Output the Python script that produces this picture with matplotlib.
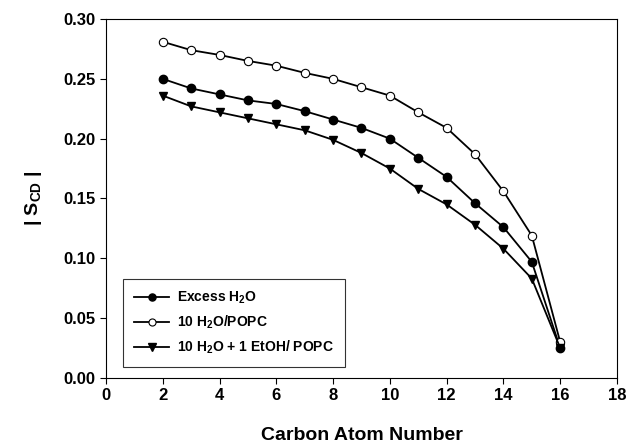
import numpy as np
import matplotlib.pyplot as plt

plt.rcParams['font.family'] = ['Liberation Sans', 'DejaVu Sans']
plt.rcParams['font.weight'] = 'bold'
plt.rcParams['mathtext.fontset'] = 'custom'
plt.rcParams['mathtext.rm'] = 'Liberation Sans:bold'
plt.rcParams['mathtext.it'] = 'Liberation Sans:bold'
plt.rcParams['mathtext.bf'] = 'Liberation Sans:bold'

# carbon positions along the chain
carbon = [2, 3, 4, 5, 6, 7, 8, 9, 10, 11, 12, 13, 14, 15, 16]

excess_h2o = [0.250, 0.242, 0.237, 0.232, 0.229, 0.223, 0.216, 0.209, 0.200,
              0.184, 0.168, 0.146, 0.126, 0.097, 0.025]
h2o_popc = [0.281, 0.274, 0.270, 0.265, 0.261, 0.255, 0.250, 0.243, 0.236,
            0.222, 0.209, 0.187, 0.156, 0.119, 0.030]
h2o_etoh_popc = [0.236, 0.227, 0.222, 0.217, 0.212, 0.207, 0.199, 0.188, 0.175,
                 0.158, 0.145, 0.128, 0.108, 0.083, 0.025]

labels = ['Excess H$_2$O', '10 H$_2$O/POPC', '10 H$_2$O + 1 EtOH/ POPC']

fig = plt.figure(figsize=(6.27, 4.43), dpi=100)
ax = fig.add_axes([0.169, 0.147, 0.815, 0.81])

ax.plot(carbon, excess_h2o, '-o', color='black', mfc='black', ms=6, lw=1.3,
        label=labels[0])
ax.plot(carbon, h2o_popc, '-o', color='black', mfc='white', ms=6, lw=1.3,
        mew=0.8, label=labels[1])
ax.plot(carbon, h2o_etoh_popc, '-v', color='black', mfc='black', ms=6, lw=1.3,
        label=labels[2])

ax.set_xlim(0, 18)
ax.set_ylim(0, 0.30)
ax.set_xticks(np.arange(0, 19, 2))
ax.set_yticks(np.arange(0, 0.31, 0.05))
ax.set_yticklabels([f'{v:.2f}' for v in np.arange(0, 0.31, 0.05)])
ax.tick_params(direction='out', length=4, labelsize=12, right=False, top=False)
for lab in ax.get_xticklabels() + ax.get_yticklabels():
    lab.set_fontweight('bold')

ax.set_xlabel('Carbon Atom Number', fontsize=14, fontweight='bold', labelpad=17)
ax.set_ylabel('| S$_{\\mathrm{CD}}$ |', fontsize=14, fontweight='bold', labelpad=14)

leg = ax.legend(loc='lower left', bbox_to_anchor=(0.02, 0.01), fontsize=10,
                frameon=True, fancybox=False, edgecolor='black',
                handlelength=2.5, handletextpad=0.6, borderpad=0.8,
                labelspacing=0.55, markerscale=0.85)
leg.get_frame().set_linewidth(0.8)
for t in leg.get_texts():
    t.set_fontweight('bold')

fig.savefig('out.png', dpi=100)
